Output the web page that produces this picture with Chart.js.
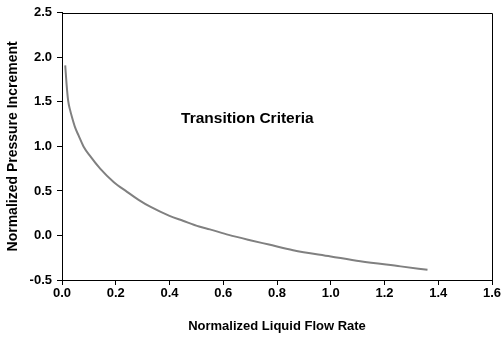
<!DOCTYPE html>
<html>
<head>
<meta charset="utf-8">
<script src="https://cdn.jsdelivr.net/npm/chart.js@4/dist/chart.umd.min.js"></script>
<style>
  html, body { margin: 0; padding: 0; background: #fff; }
  #wrap { width: 504px; height: 339px; }
</style>
</head>
<body>
<div id="wrap"><canvas id="c"></canvas></div>
<script>
// Transition criteria curve: normalized liquid flow rate vs normalized pressure increment
const flowRate = [0.012, 0.017, 0.023, 0.030, 0.037, 0.048, 0.062, 0.080, 0.105, 0.142, 0.192, 0.242, 0.285, 0.33, 0.40, 0.45, 0.51, 0.55, 0.62, 0.70, 0.77, 0.86, 1.00, 1.11, 1.26, 1.36];
const pressureIncrement = [1.91, 1.70, 1.51, 1.41, 1.33, 1.22, 1.12, 1.00, 0.89, 0.75, 0.60, 0.49, 0.40, 0.32, 0.22, 0.165, 0.10, 0.068, 0.007, -0.053, -0.102, -0.165, -0.235, -0.29, -0.347, -0.386];

const xTicks = [0, 0.2, 0.4, 0.6, 0.8, 1.0, 1.2, 1.4, 1.6];
const yTicks = [-0.5, 0.0, 0.5, 1.0, 1.5, 2.0, 2.5];

const xTitle = 'Normalized Liquid Flow Rate';
const yTitle = 'Normalized Pressure Increment';
const noteText = 'Transition Criteria';

const points = flowRate.map((x, i) => ({ x, y: pressureIncrement[i] }));

const FONT = "'Liberation Sans', Arial, sans-serif";

// Frame around the plot area and the in-chart note
const framePlugin = {
  id: 'frame',
  afterDraw(chart, args, opts) {
    const { ctx, chartArea: a, scales } = chart;
    ctx.save();
    ctx.strokeStyle = '#000';
    ctx.lineWidth = 1;
    ctx.beginPath();
    ctx.moveTo(Math.round(a.left) + 0.5, Math.round(a.top) + 0.5);
    ctx.lineTo(Math.round(a.right) + 0.5, Math.round(a.top) + 0.5);
    ctx.lineTo(Math.round(a.right) + 0.5, Math.round(a.bottom) + 0.5);
    ctx.stroke();
    ctx.fillStyle = '#000';
    ctx.font = 'bold 15.5px ' + FONT;
    ctx.textBaseline = 'middle';
    ctx.textAlign = 'left';
    ctx.fillText(opts.text, scales.x.getPixelForValue(opts.x), scales.y.getPixelForValue(opts.y));
    ctx.restore();
  }
};

new Chart(document.getElementById('c'), {
  type: 'scatter',
  data: {
    datasets: [{
      data: points,
      showLine: true,
      borderColor: '#808080',
      borderWidth: 2,
      pointRadius: 0,
      cubicInterpolationMode: 'monotone',
      fill: false
    }]
  },
  options: {
    responsive: true,
    maintainAspectRatio: false,
    animation: false,
    events: [],
    layout: { padding: { top: 9, right: 12, left: 0, bottom: 0 } },
    plugins: {
      legend: { display: false },
      tooltip: { enabled: false },
      frame: { text: noteText, x: 0.443, y: 1.31 }
    },
    scales: {
      x: {
        type: 'linear',
        min: 0, max: 1.6,
        afterBuildTicks(scale) { scale.ticks = xTicks.map(v => ({ value: v })); },
        afterFit(scale) { scale.height = 59; },
        grid: { display: true, drawOnChartArea: false, drawTicks: true, tickLength: 5, color: '#000', lineWidth: 1 },
        border: { display: true, color: '#000', width: 1 },
        ticks: {
          color: '#000',
          font: { family: FONT, size: 13, weight: 'bold' },
          padding: 1,
          maxRotation: 0,
          callback: v => Number(v).toFixed(1)
        },
        title: {
          display: true,
          text: xTitle,
          color: '#000',
          font: { family: FONT, size: 13, weight: 'bold' },
          padding: { top: 0, bottom: 4.5 }
        }
      },
      y: {
        type: 'linear',
        min: -0.5, max: 2.5,
        afterBuildTicks(scale) { scale.ticks = yTicks.map(v => ({ value: v })); },
        afterFit(scale) { scale.width = 62; },
        grid: { display: true, drawOnChartArea: false, drawTicks: true, tickLength: 5, color: '#000', lineWidth: 1 },
        border: { display: true, color: '#000', width: 1 },
        ticks: {
          color: '#000',
          font: { family: FONT, size: 13, weight: 'bold' },
          padding: 5,
          callback: v => Number(v).toFixed(1)
        },
        title: {
          display: true,
          text: yTitle,
          color: '#000',
          font: { family: FONT, size: 14, weight: 'bold' },
          padding: { top: 5, bottom: 0 }
        }
      }
    }
  },
  plugins: [framePlugin]
});
</script>
</body>
</html>
